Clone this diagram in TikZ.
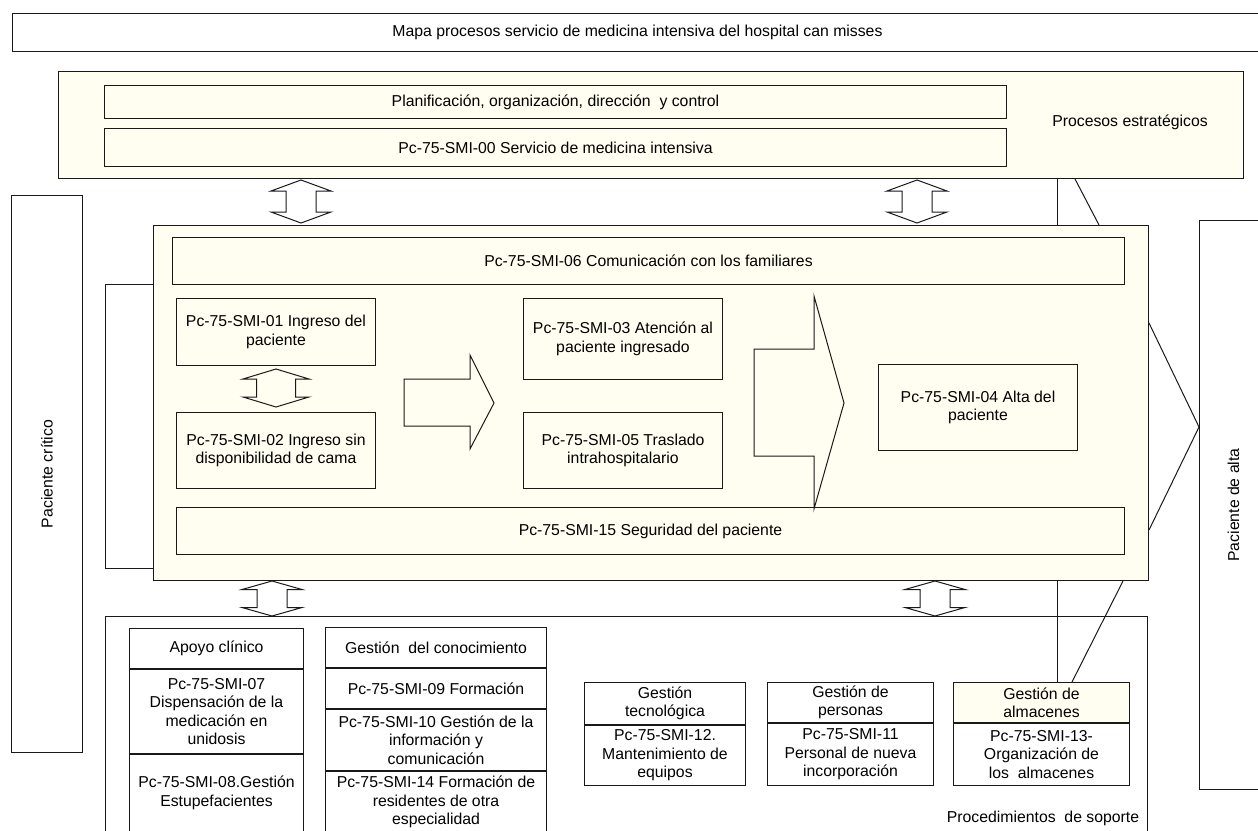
\documentclass[tikz,border=0pt]{standalone}
\usepackage{fontspec}
\setmainfont{Liberation Sans}
\definecolor{ivory}{RGB}{255,254,240}
\tikzset{
  cell/.style={draw=black!90, line width=1pt, anchor=north west, align=center, inner sep=1pt},
  ivorycell/.style={cell, fill=ivory},
  blockarrow/.style={draw=black!90, line width=1pt, line join=miter},
}

\begin{document}
\begin{tikzpicture}[x=1pt, y=-1pt, font=\fontsize{15.8}{18.5}\selectfont]
  \useasboundingbox (0,0) rectangle (1258,830);
  % title
  \node[cell, minimum width=1250pt, minimum height=38pt] (title) at (12,13) {Mapa procesos servicio de medicina intensiva del hospital can misses};

  % strategic processes
  \node[ivorycell, minimum width=1185pt, minimum height=107pt] (strat) at (58,71) {};
  \node[ivorycell, minimum width=902pt, minimum height=33pt] (plan) at (104,85) {Planificación, organización, dirección~ y control};
  \node[ivorycell, minimum width=902pt, minimum height=38pt] (smi00) at (104,128) {Pc-75-SMI-00 Servicio de medicina intensiva};
  \node (estrat) at (1130,122) {Procesos estratégicos};

  % patients
  \node[cell, minimum width=71pt, minimum height=557pt] (critico) at (11,195) {};
  \node[rotate=90] (criticotxt) at (critico.center) {Paciente crítico};
  \node[cell, minimum width=68pt, minimum height=569pt] (alta) at (1199,220) {};
  \node[rotate=90] (altatxt) at (alta.center) {Paciente de alta};

  % key processes
  \node[ivorycell, minimum width=995pt, minimum height=355pt] (mid) at (153,225) {};
  \draw[blockarrow] (mid.west |- 0,284) -- ++(-48,0) -- ++(0,284) -- ++(48,0);
  \node[ivorycell, minimum width=952pt, minimum height=47pt] (smi06) at (172,237) {Pc-75-SMI-06 Comunicación con los familiares};
  \node[ivorycell, minimum width=199pt, minimum height=67pt] (smi01) at (176,298) {Pc-75-SMI-01 Ingreso del\\paciente};
  \node[ivorycell, minimum width=199pt, minimum height=76pt] (smi02) at (176,412) {Pc-75-SMI-02 Ingreso sin\\disponibilidad de cama};
  \node[ivorycell, minimum width=199pt, minimum height=81pt] (smi03) at (523,298) {Pc-75-SMI-03 Atención al\\paciente ingresado};
  \node[ivorycell, minimum width=199pt, minimum height=76pt] (smi05) at (523,412) {Pc-75-SMI-05 Traslado\\intrahospitalario};
  \node[ivorycell, minimum width=199pt, minimum height=86pt] (smi04) at (878,364) {Pc-75-SMI-04 Alta del\\paciente};
  \node[ivorycell, minimum width=948pt, minimum height=47pt] (smi15) at (176,507) {Pc-75-SMI-15 Seguridad del paciente};
  \draw[blockarrow, fill=ivory] (404,379) -- (470,379) -- (470,355) -- (494,403) -- (470,449) -- (470,426) -- (404,426) -- cycle;
  \draw[blockarrow, fill=ivory] (754,349) -- (814,349) -- (814,296) -- (844,403) -- (814,509) -- (814,456) -- (754,456) -- cycle;
  \draw[blockarrow, fill=ivory] (276,369) -- ++(33,10) -- ++(-13.5,0) -- (295.5,397) -- ++(13.5,0) -- (276,407) -- ++(-33,-10) -- ++(13.5,0) -- (256.5,379) -- ++(-13.5,0) -- cycle;

  % support processes
  \node[cell, minimum width=1042pt, minimum height=230pt] (soporte) at (105,616) {};
  \node (soptxt) at (1043,818) {Procedimientos~ de soporte};

  \node[cell, minimum width=174pt, minimum height=40pt] (apoyo) at (129,628) {Apoyo clínico};
  \node[cell, minimum width=174pt, minimum height=84pt] (smi07) at (apoyo.south west) {Pc-75-SMI-07\\Dispensación de la\\medicación en\\unidosis};
  \node[cell, minimum width=174pt, minimum height=77pt] (smi08) at (smi07.south west) {Pc-75-SMI-08.Gestión\\Estupefacientes};

  \node[cell, minimum width=221pt, minimum height=40pt] (conoc) at (325,627) {Gestión~ del conocimiento};
  \node[cell, minimum width=221pt, minimum height=40pt] (smi09) at (conoc.south west) {Pc-75-SMI-09 Formación};
  \node[cell, minimum width=221pt, minimum height=61pt] (smi10) at (smi09.south west) {Pc-75-SMI-10 Gestión de la\\información y\\comunicación};
  \node[cell, minimum width=221pt, minimum height=61pt] (smi14) at (smi10.south west) {Pc-75-SMI-14 Formación de\\residentes de otra\\especialidad};

  \node[cell, minimum width=161pt, minimum height=42pt] (tecno) at (584,682) {Gestión\\tecnológica};
  \node[cell, minimum width=161pt, minimum height=60pt] (smi12) at (tecno.south west) {Pc-75-SMI-12.\\Mantenimiento de\\equipos};
  \node[cell, minimum width=166pt, minimum height=40pt] (perso) at (767,682) {Gestión de\\personas};
  \node[cell, minimum width=166pt, minimum height=62pt] (smi11) at (perso.south west) {Pc-75-SMI-11\\Personal de nueva\\incorporación};
  \node[ivorycell, minimum width=176pt, minimum height=40pt] (alma) at (953,682) {Gestión de\\almacenes};
  \node[cell, minimum width=176pt, minimum height=62pt] (smi13) at (alma.south west) {Pc-75-SMI-13-\\Organización de\\los~ almacenes};

  % links between levels
  \foreach \cx/\ty/\by/\hl in {301/180/223/11, 917/180/223/11, 272/581/616/8.5, 935/581/616/8.5}
    \draw[blockarrow, fill=white] (\cx,\ty) -- ++(30,\hl) -- ++(-15,0) -- (\cx+15,\by-\hl) -- ++(15,0) -- (\cx,\by) -- ++(-30,-\hl) -- ++(15,0) -- (\cx-15,\ty+\hl) -- ++(-15,0) -- cycle;
  \draw[blockarrow] (strat.south -| 1057,0) -- (mid.north -| 1057,0);
  \draw[blockarrow] (strat.south -| 1075,0) -- (mid.north -| 1099,0);
  \draw[blockarrow] (mid.south -| 1057,0) -- (alma.north -| 1057,0);
  \draw[blockarrow] (mid.south -| 1123,0) -- (alma.north -| 1072,0);
  \draw[blockarrow] (mid.east |- 0,323) -- (alta.west |- 0,427) -- (mid.east |- 0,530);
\end{tikzpicture}
\end{document}
